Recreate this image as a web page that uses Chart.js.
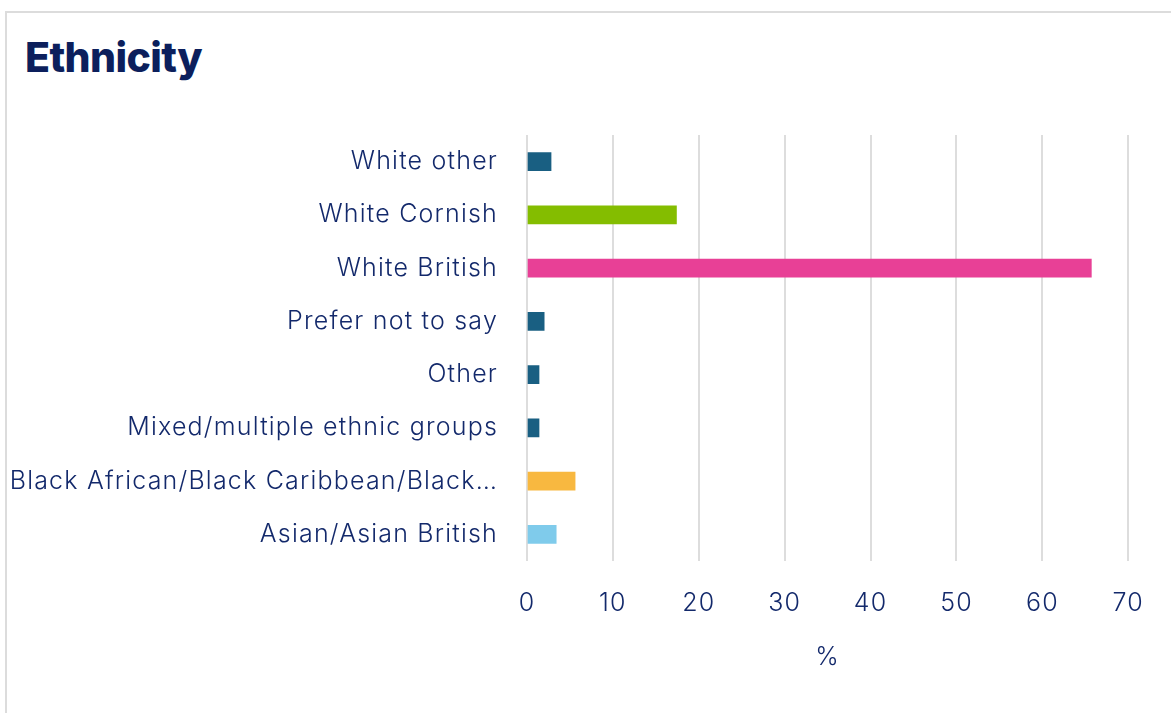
<!DOCTYPE html>
<html>
<head>
<meta charset="utf-8">
<script src="https://cdn.jsdelivr.net/npm/chart.js@4"></script>
<style>
  html, body { margin: 0; padding: 0; background: #fff; overflow: hidden; }
  .card { position: absolute; left: 5px; top: 11px; width: 1300px; height: 900px; border: 2px solid #dcdcdc; box-sizing: border-box; }
  h2 { position: absolute; left: 25px; top: 32px; margin: 0; font: 800 41px Inter, sans-serif; color: #0c1f5c; letter-spacing: -0.6px; }
  .wrap { position: absolute; left: 0; top: 0; width: 1171px; height: 713px; }
</style>
</head>
<body>
<div class="card"></div>
<h2>Ethnicity</h2>
<div class="wrap"><canvas id="chart"></canvas></div>
<script>
const categories = [
  'White other',
  'White Cornish',
  'White British',
  'Prefer not to say',
  'Other',
  'Mixed/multiple ethnic groups',
  'Black African/Black Caribbean/Black British',
  'Asian/Asian British',
];
const percentages = [2.8, 17.4, 65.7, 2.0, 1.4, 1.4, 5.6, 3.4];
const barColors = ['#195f82', '#84bd00', '#e84096', '#195f82', '#195f82', '#195f82', '#f8b840', '#7fcbeb'];
const xTicks = [0, 10, 20, 30, 40, 50, 60, 70];

const textColor = '#13296b';
const labelFont = { family: 'Inter, sans-serif', size: 25, weight: 300 };

// wider tracking so the labels take the same room as in the original
const trackingPlugin = {
  id: 'tracking',
  beforeDraw: (chart) => { chart.ctx.letterSpacing = '1.2px'; },
  beforeLayout: (chart) => { chart.ctx.letterSpacing = '1.2px'; },
};

new Chart(document.getElementById('chart'), {
  type: 'bar',
  data: {
    labels: categories,
    datasets: [{
      data: percentages,
      backgroundColor: barColors,
      barThickness: 18,
    }],
  },
  plugins: [trackingPlugin],
  options: {
    indexAxis: 'y',
    responsive: true,
    maintainAspectRatio: false,
    animation: false,
    layout: { padding: { top: 135, right: 41, bottom: 0, left: 0 } },
    plugins: { legend: { display: false }, tooltip: { enabled: false } },
    scales: {
      x: {
        min: 0,
        max: 70,
        afterBuildTicks: (scale) => { scale.ticks = xTicks.map((v) => ({ value: v })); },
        afterFit: (scale) => { scale.height = 152; },
        grid: { color: '#dddddd', lineWidth: 2, drawTicks: false },
        border: { display: false },
        ticks: { color: textColor, font: labelFont, padding: 27 },
        title: { display: true, text: '%', color: textColor, font: labelFont, padding: { top: 0, bottom: 41 } },
      },
      y: {
        afterFit: (scale) => { scale.width = 527; },
        grid: { display: false },
        border: { display: false },
        ticks: {
          color: textColor,
          font: labelFont,
          padding: 21,
          callback: (value, idx) => {
            const label = categories[idx];
            return label.length > 36 ? label.slice(0, 35) + '…' : label;
          },
        },
      },
    },
  },
});
</script>
</body>
</html>
